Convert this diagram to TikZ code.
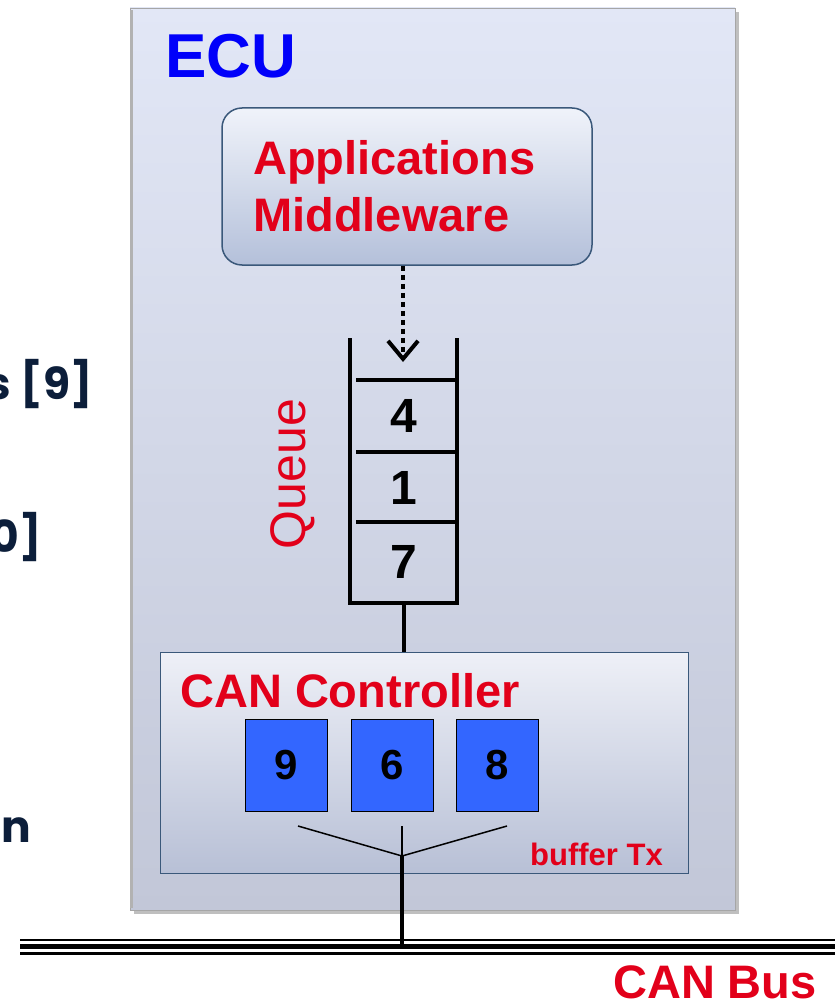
\documentclass[tikz,border=0pt]{standalone}
\usepackage{fontspec}
\setmainfont{Liberation Sans}
\newfontfamily\geofont{Poppins}
\usetikzlibrary{arrows.meta}

\definecolor{ecured}{RGB}{226,0,26}
\definecolor{ecublue}{RGB}{0,0,250}
\definecolor{bufblue}{RGB}{51,102,255}
\definecolor{navyink}{RGB}{12,30,58}
\definecolor{boxline}{RGB}{58,88,122}
\newcommand{\fsz}[1]{\fontsize{#1}{#1}\selectfont}

\begin{document}
\begin{tikzpicture}[x=1pt, y=-1pt,
    redlbl/.style={text=ecured, font=\fsz{47}\bfseries, inner sep=0pt},
    slotlbl/.style={font=\fsz{48}\bfseries, inner sep=0pt},
    bufbox/.style={draw=black, thick, fill=bufblue, minimum width=82pt,
      minimum height=92pt, inner sep=0pt, font=\fsz{42}\bfseries},
    sidelbl/.style={text=navyink, font=\geofont\fsz{44}\bfseries, inner sep=0pt}]
  \useasboundingbox (0,0) rectangle (835,1006);
  % ECU body
  \fill[black!25] (134,12) rectangle (739,914);
  \shade[top color={rgb,255:red,226;green,231;blue,246},
         bottom color={rgb,255:red,194;green,199;blue,216}, draw=black!35]
    (130,8) rectangle (735,910);
  \draw[black!30, line width=3pt] (131.5,10) -- (131.5,908);
  \node[anchor=base west, text=ecublue, font=\fsz{62}\bfseries, inner sep=0pt]
    (ecu) at (165,78) {ECU};
  % left side text (cut off)
  \node[sidelbl, anchor=base east] (refa) at (93,399) {s [9]};
  \node[sidelbl, anchor=base east] (refb) at (42,552) {0]};
  \node[sidelbl, anchor=base east] (refc) at (31,842) {n};
  % applications
  \node[draw=boxline, line width=1.5pt, rounded corners=20pt, minimum width=370pt,
        minimum height=157pt, top color={rgb,255:red,240;green,243;blue,250},
        bottom color={rgb,255:red,180;green,192;blue,218}] (apps) at (407,186.5) {};
  \node[redlbl, anchor=base west] (appl) at (253,174) {Applications};
  \node[redlbl, anchor=base west] (mware) at (253,231) {Middleware};
  % queue
  \coordinate (qtop) at (403,362);
  \coordinate (qbot) at (403.5,603);
  \draw[line width=4pt] (350,338) -- (350,603) -- (457,603) -- (457,338);
  \foreach \y in {380,452,522}
    \draw[line width=4pt] (356,\y) -- (455,\y);
  \foreach \n/\y in {4/416,1/488,7/562}
    \node[slotlbl] (q\n) at (404,\y) {\n};
  \node[rotate=90, text=ecured, font=\fsz{50}, inner sep=0pt] (queue) at (293,474) {Queue};
  \draw[line width=4pt, dash pattern=on 5pt off 4pt, shorten >=8pt]
    (apps.south -| qtop) -- (qtop);
  \draw[line width=4pt, -{Straight Barb[length=18pt, width=30pt]}]
    ([yshift=6pt]qtop) -- (qtop);
  % CAN controller
  \node[draw=boxline, minimum width=528pt, minimum height=221pt, inner sep=0pt,
        top color={rgb,255:red,238;green,240;blue,247},
        bottom color={rgb,255:red,184;green,192;blue,214}] (ctrl) at (424,762.5) {};
  \draw[line width=4pt] (qbot) -- (ctrl.north -| qbot);
  \node[redlbl, anchor=base west] (ctrlname) at (180,707) {CAN Controller};
  \foreach \n/\x in {9/286,6/392,8/497}
    \node[bufbox] (buf\n) at (\x,765) {\n};
  \node[text=ecured, font=\fsz{31}\bfseries, inner sep=0pt, anchor=base east]
    (txlbl) at (663,865) {buffer Tx};
  % fan into the bus
  \coordinate (fan) at (402,856);
  \draw[line width=1.5pt] (298,826) -- (fan) -- (507,826);
  \draw[line width=1.5pt] (402,826) -- (fan);
  % CAN bus
  \draw[line width=2pt] (20,939.5) -- (835,939.5);
  \draw[line width=5pt] (20,946) -- (835,946);
  \draw[line width=3pt] (20,953) -- (835,953);
  \draw[line width=4pt] (fan) -- (402,946);
  \node[redlbl, anchor=base east] (bus) at (817,998) {CAN Bus};
\end{tikzpicture}
\end{document}
